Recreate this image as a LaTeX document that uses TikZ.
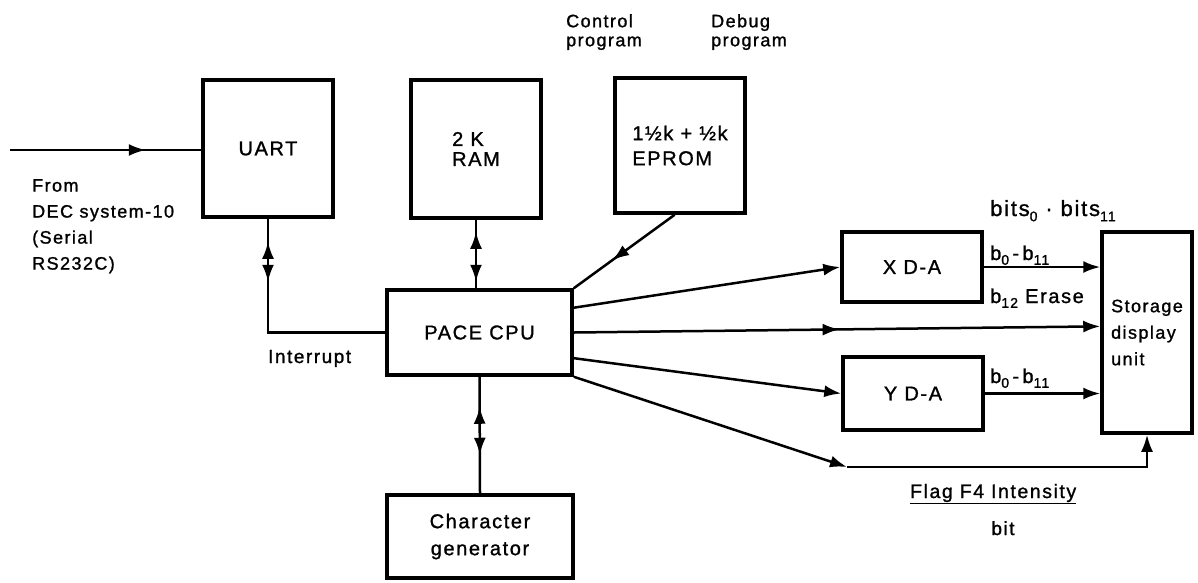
\documentclass[tikz,border=0pt]{standalone}
\usepackage{fontspec}
\setmainfont{Liberation Sans}[LetterSpace=8,FakeBold=1.2]
\usetikzlibrary{arrows.meta,decorations.markings,calc}
\newcommand\fs[2]{\fontsize{#1}{#2}\selectfont}
\newcommand\subsc[1]{\raisebox{-0.45ex}{\fontsize{14}{14}\selectfont #1}}
\begin{document}
\begin{tikzpicture}[x=1pt,y=-1pt,
  >={Latex[length=17pt,width=12pt]},
  box/.style={draw, line width=3.5pt, inner sep=0pt, align=center, font=\fs{20}{25}},
  lbl/.style={inner sep=0pt},
  conn/.style={line width=2.5pt},
  midarrow/.style={postaction={decorate}, decoration={markings, mark=at position #1 with {\arrow{>}}}},
  dbl/.style 2 args={postaction={decorate}, decoration={markings, mark=at position #1 with {\arrowreversed{>}}, mark=at position #2 with {\arrow{>}}}}
]
\useasboundingbox (0,0) rectangle (1198,582);

\node[box, minimum width=130pt, minimum height=137pt] (uart) at (268,148.5) {UART};
\node[box, minimum width=130pt, minimum height=138pt, align=left, font=\fs{20}{20}] (ram) at (476,149) {2 K\\RAM};
\node[box, minimum width=130pt, minimum height=135pt, align=left, font=\fs{20}{25}] (eprom) at (680,145.5) {1½k + ½k\\EPROM};
\node[box, minimum width=185pt, minimum height=85pt] (cpu) at (479.5,332.5) {PACE CPU};
\node[box, minimum width=140pt, minimum height=70pt] (xda) at (912,267) {X D-A};
\node[box, minimum width=140pt, minimum height=73pt] (yda) at (913,393.5) {Y D-A};
\node[box, minimum width=90pt, minimum height=201pt, align=left, font=\fs{18}{26.5}] (sdu) at (1147,332.5) {Storage\\display\\unit};
\node[box, minimum width=186pt, minimum height=83pt, font=\fs{20}{27}] (chg) at (480,536.5) {Character\\generator};

\node[lbl, anchor=north west, align=left, font=\fs{18}{26}] (from) at (32,179) {From\\DEC system-10\\(Serial\\RS232C)};
\node[lbl, anchor=base west, font=\fs{19}{19}] (intr) at (268,363) {Interrupt};
\node[lbl, anchor=north west, align=left, font=\fs{18}{19}] (ctl) at (566,14) {Control\\program};
\node[lbl, anchor=north west, align=left, font=\fs{18}{19}] (dbg) at (711,14) {Debug\\program};
\node[lbl, anchor=base west, font=\fs{22}{22}] (bits) at (990,216) {bits\subsc{0} · bits\subsc{11}};
\node[lbl, anchor=base west, font=\fs{20}{20}] (bx) at (990,260) {b\subsc{0}\,-\,b\subsc{11}};
\node[lbl, anchor=base west, font=\fs{20}{20}] (be) at (990,303) {b\subsc{12} Erase};
\node[lbl, anchor=base west, font=\fs{20}{20}] (by) at (990,383) {b\subsc{0}\,-\,b\subsc{11}};
\node[lbl, anchor=base west, font=\fs{19.5}{19.5}] (flag) at (910,498) {\underline{Flag F4 Intensity}};
\node[lbl, anchor=base, font=\fs{19}{19}] (bit) at (1003,535) {bit};

\coordinate (in) at (10,150);
\draw[conn, midarrow=0.71] (in) -- (in -| uart.west);
\draw[conn, dbl={23pt}{63pt}] (uart.south) |- (cpu.west);
\draw[conn, dbl={12pt}{62pt}] (ram.south) -- (ram.south |- cpu.north);
\draw[conn, dbl={30pt}{78pt}] (cpu.south) -- (chg.north);
\coordinate (ep) at ($(eprom.south west)!0.46!(eprom.south east)$);
\draw[conn, midarrow=0.62] (ep) -- (cpu.north east);
\draw[conn, ->] ($(cpu.north east)!0.22!(cpu.south east)$) -- (xda.west);
\draw[conn, ->, midarrow=0.505] (cpu.east) -- ($(sdu.north west)!0.47!(sdu.south west)$);
\draw[conn, ->] ($(cpu.north east)!0.79!(cpu.south east)$) -- (yda.west);
\coordinate (k) at (847,467);
\draw[conn, ->] (cpu.south east) -- (k);
\draw[conn, ->] (k) -- (k -| sdu.south) -- (sdu.south);
\draw[conn, ->] (xda.east) -- (xda.east -| sdu.west);
\draw[conn, ->] (yda.east) -- (yda.east -| sdu.west);
\end{tikzpicture}
\end{document}
